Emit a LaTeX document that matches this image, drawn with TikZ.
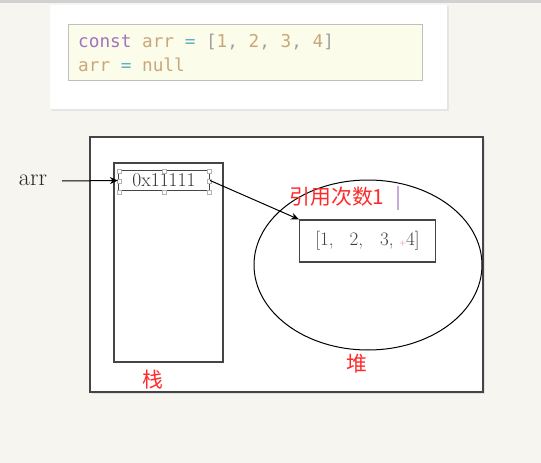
\documentclass[tikz,border=0pt]{standalone}
\usepackage{fontspec}
\setmonofont{DejaVu Sans Mono}
\newfontfamily\cjk{Noto Sans CJK SC}
\usetikzlibrary{arrows.meta}
\definecolor{bgbeige}{HTML}{F7F5F0}
\definecolor{codebg}{HTML}{FCFCEA}
\definecolor{kwpurple}{HTML}{A274BC}
\definecolor{vartan}{HTML}{C9A77A}
\definecolor{opteal}{HTML}{5FAFC0}
\definecolor{brgray}{HTML}{A0A0A0}
\definecolor{lblred}{HTML}{FF2A2A}
\definecolor{framegray}{HTML}{454545}
\tikzset{
  frame/.style={draw=framegray, line width=1.4pt},
  thinbox/.style={draw=framegray, line width=1.2pt},
  handle/.style={draw=black!30, fill=white, line width=0.6pt, minimum size=4pt, inner sep=0pt},
  redlabel/.style={text=lblred, font=\cjk\fontsize{20.8}{22}\selectfont, inner sep=0pt},
  conn/.style={draw=black, line width=1pt, -{Stealth[length=8pt,width=7pt]}},
  codeline/.style={anchor=west, inner sep=0pt, font=\ttfamily\fontsize{17.7}{20}\selectfont},
}
\begin{document}
\begin{tikzpicture}[x=1pt,y=-1pt]
\useasboundingbox (0,0) rectangle (541,463);
\fill[bgbeige] (0,0) rectangle (541,463);
\fill[black!18] (0,0) rectangle (541,2.5);
% top card
\fill[black!10] (51,6) rectangle (449,111);
\fill[white] (50,5) rectangle (447,109);
\node[draw=black!25, fill=codebg, line width=0.8pt, minimum width=354pt, minimum height=56pt, inner sep=0pt] (code) at (245,52) {};
\node[codeline] (line1) at (78,42) {\color{kwpurple}const \color{vartan}arr \color{opteal}= \color{brgray}[\color{vartan}1\color{brgray}, \color{vartan}2\color{brgray}, \color{vartan}3\color{brgray}, \color{vartan}4\color{brgray}]};
\node[codeline] (line2) at (78,65) {\color{vartan}arr \color{opteal}= \color{vartan}null};
% main frame
\fill[black!12] (91.5,138.5) rectangle (484.5,394);
\node[frame, fill=white, minimum width=393pt, minimum height=255pt, inner sep=0pt] (mem) at (286.5,264.5) {};
% stack
\node[thinbox, minimum width=109pt, minimum height=199pt, inner sep=0pt] (stack) at (168.5,262.5) {};
% heap ellipse
\draw[black, line width=1pt] (368,265) ellipse [x radius=114, y radius=85];
\coordinate (heapc) at (368,265);
% address box
\node[thinbox, minimum width=91pt, minimum height=20pt, inner sep=0pt, text=black!80, font=\fontsize{19.5}{20}\selectfont] (addr) at (164,180.5) {0x11111};
\foreach \hx/\hy [count=\i] in {119/171,164/171,209/171,119/181,209/181,119/192,164/192,209/192}
  \node[handle] (h\i) at (\hx,\hy) {};
% heap box
\node[thinbox, fill=white, minimum width=136pt, minimum height=42pt, inner sep=0pt, text=black!75, font=\fontsize{19}{20}\selectfont] (arrbox) at (367.5,241) {[1,\hspace{16pt}2,\hspace{17pt}3,\hspace{6pt}{\color{red!60}\fontsize{8}{9}\selectfont+}4]};
% arr label
\node[inner sep=0pt, text=black!85, font=\fontsize{24}{26}\selectfont] (arrlbl) at (33,180) {arr};
\coordinate (arrstart) at (62,181);
\draw[conn] (arrstart) -- (addr.west);
\draw[conn] (addr.east) -- (arrbox.north west);
% red labels
\node[redlabel] (ref) at (337,197) {引用次数1};
\draw[draw=kwpurple!60, line width=1.5pt] (398,186) -- (398,210);
\node[redlabel] (zhan) at (153,380) {栈};
\node[redlabel] (dui) at (357,364) {堆};
\end{tikzpicture}
\end{document}
